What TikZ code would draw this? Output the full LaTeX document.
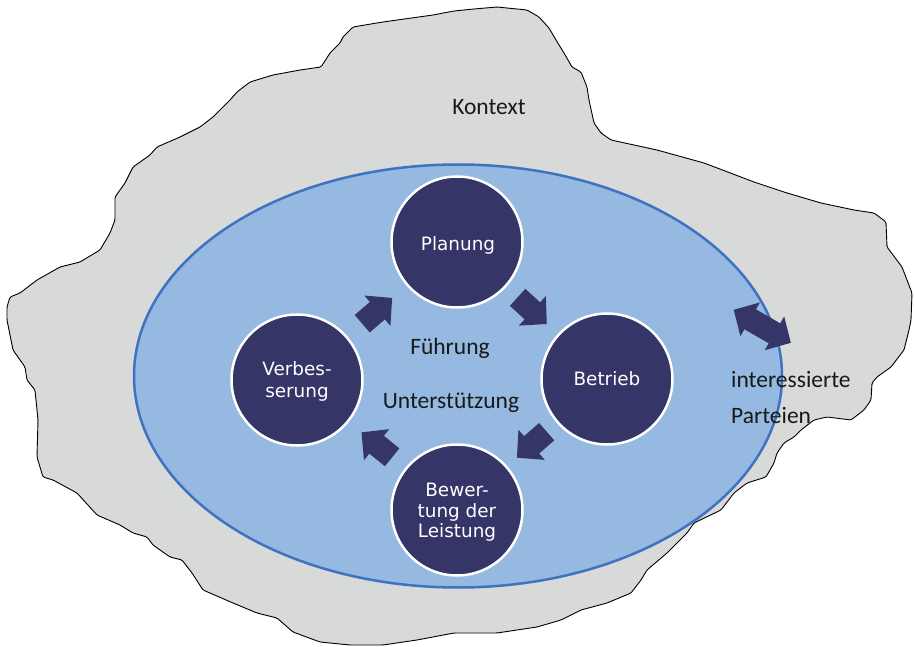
\documentclass[tikz,border=0pt]{standalone}
\usepackage{fontspec}
\usetikzlibrary{calc}
\newfontfamily\ctxfont{Carlito}
\newfontfamily\phasefont{DejaVu Sans}
\definecolor{ctxgray}{HTML}{D8D9D9}
\definecolor{ellfill}{HTML}{95B9E1}
\definecolor{elldraw}{HTML}{3F72BF}
\definecolor{navy}{HTML}{353567}
\tikzset{
  ctx/.style={fill=ctxgray, draw=black, line width=0.9pt, line join=round, rounded corners=1.5pt},
  ell/.style={fill=ellfill, draw=elldraw, line width=2.5pt},
  phase/.style={circle, fill=navy, draw=white, line width=2.5pt, minimum size=131pt, inner sep=0pt},
  ctext/.style={text=white, font=\phasefont\fontsize{18.4}{21}\selectfont, inner sep=0pt, anchor=base},
  ltext/.style={text=black!90, font=\ctxfont\fontsize{23.5}{28}\selectfont, inner sep=0pt},
  pics/blockarrow/.style={code={
    \fill[navy] (-19.5,-11.5) -- (0.5,-11.5) -- (0.5,-20) -- (20,0) -- (0.5,20) -- (0.5,11.5) -- (-19.5,11.5) -- cycle;}},
  pics/dblarrow/.style={code={
    \fill[navy] (-33,0) -- (-14,-19.5) -- (-14,-11.5) -- (14,-11.5) -- (14,-19.5) -- (33,0)
      -- (14,19.5) -- (14,11.5) -- (-14,11.5) -- (-14,19.5) -- cycle;}},
}
\begin{document}
\begin{tikzpicture}[x=1pt, y=-1pt]
\useasboundingbox (0,0) rectangle (914,647);
% context outline
\path[ctx] (454,11) -- (474,9) -- (497,7) -- (527,10) -- (539,17) -- (549,28) -- (556,40) -- (564,53)
 -- (572,67) -- (581,72) -- (587,87) -- (589,100) -- (594,123) -- (601,133) -- (611,140) -- (657,150)
 -- (704,163) -- (754,182) -- (787,193) -- (821,203) -- (854,210) -- (874,213) -- (886,222) -- (887,247)
 -- (902,267) -- (912,293) -- (911,320) -- (909,330) -- (904,350) -- (891,367) -- (877,377) -- (872,383)
 -- (871,400) -- (864,410) -- (851,420) -- (827,417) -- (814,420) -- (801,430) -- (794,437) -- (784,443)
 -- (777,453) -- (774,463) -- (766,477) -- (747,483) -- (734,493) -- (721,510) -- (694,523) -- (687,533)
 -- (667,553) -- (647,570) -- (641,580) -- (631,593) -- (607,603) -- (581,610) -- (561,620) -- (537,627)
 -- (497,633) -- (454,633) -- (417,640) -- (383,645) -- (350,645) -- (320,642) -- (293,632) -- (277,618)
 -- (257,613) -- (233,603) -- (203,590) -- (192,573) -- (182,560) -- (170,557) -- (153,545) -- (147,537)
 -- (133,533) -- (120,525) -- (97,515) -- (77,493) -- (53,480) -- (43,477) -- (37,457) -- (38,420)
 -- (35,390) -- (27,380) -- (25,367) -- (13,350) -- (7,320) -- (7,307) -- (10,297) -- (20,293) -- (37,280)
 -- (60,267) -- (80,262) -- (100,250) -- (110,233) -- (115,220) -- (115,197) -- (125,183) -- (133,167)
 -- (150,155) -- (157,147) -- (180,137) -- (200,127) -- (213,117) -- (230,100) -- (237,92) -- (250,82)
 -- (273,75) -- (300,70) -- (321,67) -- (330,53) -- (340,43) -- (343,37) -- (353,27) -- (383,22)
 -- (433,15) -- cycle;
% organisation ellipse
\coordinate (org) at (458,376);
\path[ell] (org) ellipse [x radius=324pt, y radius=211.5pt];
% phases
\node[phase] (plan) at (457,242) {};
\node[phase] (betr) at (607,379) {};
\node[phase] (bew)  at (457,510) {};
\node[phase] (verb) at (297,380) {};
\node[ctext] (planT) at ($(plan)+(1,9)$) {Planung};
\node[ctext] (betrT) at ($(betr)+(0,6)$) {Betrieb};
\node[ctext] (verbT1) at ($(verb)+(0,-4)$) {Verbes-};
\node[ctext] (verbT2) at ($(verb)+(0,17)$) {serung};
\node[ctext] (bewT1) at ($(bew)+(0,-14)$) {Bewer-};
\node[ctext] (bewT2) at ($(bew)+(0,7)$) {tung der};
\node[ctext] (bewT3) at ($(bew)+(0,27)$) {Leistung};
% cycle arrows
\foreach \a/\b in {verb/plan, plan/betr, betr/bew, bew/verb}{
  \path let \p1=($(\b)-(\a)$), \n1={atan2(\y1,\x1)} in ($(\a)!0.5!(\b)$) pic[rotate=\n1] {blockarrow};
}
% labels
\node[ltext, anchor=base] (kontext) at (489,115) {Kontext};
\node[ltext, anchor=base] (fuehr) at (450,355) {Führung};
\node[ltext, anchor=base] (unter) at (451,408) {Unterstützung};
\node[ltext, anchor=base west] (ip1) at (731,388) {interessierte};
\node[ltext, anchor=base west] (ip2) at (731,423) {Parteien};
% exchange with interested parties
\coordinate (xchg) at (762.3,326.3);
\path (xchg) pic[rotate=-30] {dblarrow};
\end{tikzpicture}
\end{document}
